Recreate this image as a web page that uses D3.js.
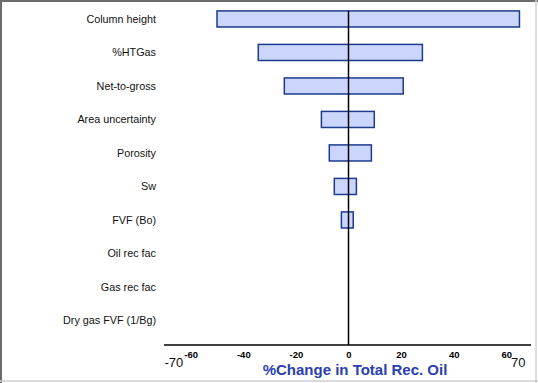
<!DOCTYPE html>
<html><head><meta charset="utf-8">
<script src="https://cdn.jsdelivr.net/npm/d3@7"></script>
<style>
html,body{margin:0;padding:0;background:#fff;}
svg{display:block;}
</style></head>
<body>
<script>
const categories = ["Column height","%HTGas","Net-to-gross","Area uncertainty","Porosity","Sw","FVF (Bo)","Oil rec fac","Gas rec fac","Dry gas FVF (1/Bg)"];
const lowValues  = [-50, -34.3, -24.4, -10.3, -7.3, -5.4, -2.7, 0, 0, 0];
const highValues = [65, 28.1, 20.8, 9.8, 8.7, 3.0, 1.8, 0, 0, 0];
const tickValues = [-60, -40, -20, 0, 20, 40, 60];
const axisMin = -70, axisMax = 70;
const axisTitle = "%Change in Total Rec. Oil";

const W = 538, H = 383;
const svg = d3.select("body").append("svg").attr("width", W).attr("height", H);

// frame
svg.append("rect").attr("x",0).attr("y",0).attr("width",W).attr("height",H).attr("fill","#fff");
svg.append("line").attr("x1",0).attr("x2",W).attr("y1",1).attr("y2",1).attr("stroke","#6b6b6b").attr("stroke-width",2);
svg.append("line").attr("x1",1).attr("x2",1).attr("y1",0).attr("y2",H).attr("stroke","#6b6b6b").attr("stroke-width",2);
svg.append("line").attr("x1",536).attr("x2",536).attr("y1",0).attr("y2",H).attr("stroke","#cfcfcf").attr("stroke-width",1.5);
svg.append("line").attr("x1",0).attr("x2",W).attr("y1",381).attr("y2",381).attr("stroke","#cfcfcf").attr("stroke-width",1.5);

const x = d3.scaleLinear().domain([axisMin, axisMax]).range([164.4, 532.6]);
const y = d3.scaleBand().domain(categories).range([2.2, 337.2]).paddingInner(0.52).paddingOuter(0.26);

const data = categories.map((c,i)=>({c, lo: lowValues[i], hi: highValues[i]}));

// bars
svg.append("g").selectAll("rect").data(data.filter(d=>d.hi-d.lo>0)).join("rect")
  .attr("x", d=>x(d.lo)).attr("width", d=>x(d.hi)-x(d.lo))
  .attr("y", d=>y(d.c)).attr("height", y.bandwidth())
  .attr("fill","#ccd6fc").attr("stroke","#1c3a8e").attr("stroke-width",1.5);

// zero line
svg.append("line").attr("x1",x(0)).attr("x2",x(0))
  .attr("y1", y(categories[0])).attr("y2", 345)
  .attr("stroke","#000").attr("stroke-width",1.5);

// category labels
svg.append("g").selectAll("text").data(categories).join("text")
  .attr("x",156).attr("y", d=>y(d)+y.bandwidth()/2)
  .attr("dy","0.35em").attr("text-anchor","end")
  .attr("font-family","Liberation Sans, Arial, sans-serif").attr("font-size","10.8px")
  .attr("fill","#111").text(d=>d);

// x axis
const axis = d3.axisBottom(x).tickValues(tickValues).tickSize(0).tickPadding(6).tickFormat(d => String(d));
const gAxis = svg.append("g").attr("transform","translate(0,345)").call(axis);
gAxis.select(".domain").remove();
gAxis.append("line").attr("x1",164).attr("x2",531).attr("y1",0).attr("y2",0).attr("stroke","#000").attr("stroke-width",1.5);
gAxis.selectAll(".tick text")
  .attr("font-family","Liberation Sans Narrow, Liberation Sans, Arial, sans-serif")
  .attr("font-weight","bold").attr("font-size","9.5px").attr("fill","#000");

// end labels
svg.append("text").attr("x",x(axisMin)).attr("y",367).attr("text-anchor","start")
  .attr("font-family","Liberation Sans, Arial, sans-serif").attr("font-size","13px").attr("fill","#111").text(axisMin);
svg.append("text").attr("x",525.5).attr("y",367).attr("text-anchor","end")
  .attr("font-family","Liberation Sans, Arial, sans-serif").attr("font-size","13px").attr("fill","#111").text(axisMax);

// axis title
svg.append("text").attr("x",355).attr("y",375).attr("text-anchor","middle")
  .attr("font-family","Liberation Sans, Arial, sans-serif").attr("font-weight","bold").attr("font-size","15px")
  .attr("fill","#2a40b0").text(axisTitle);
</script>
</body></html>
